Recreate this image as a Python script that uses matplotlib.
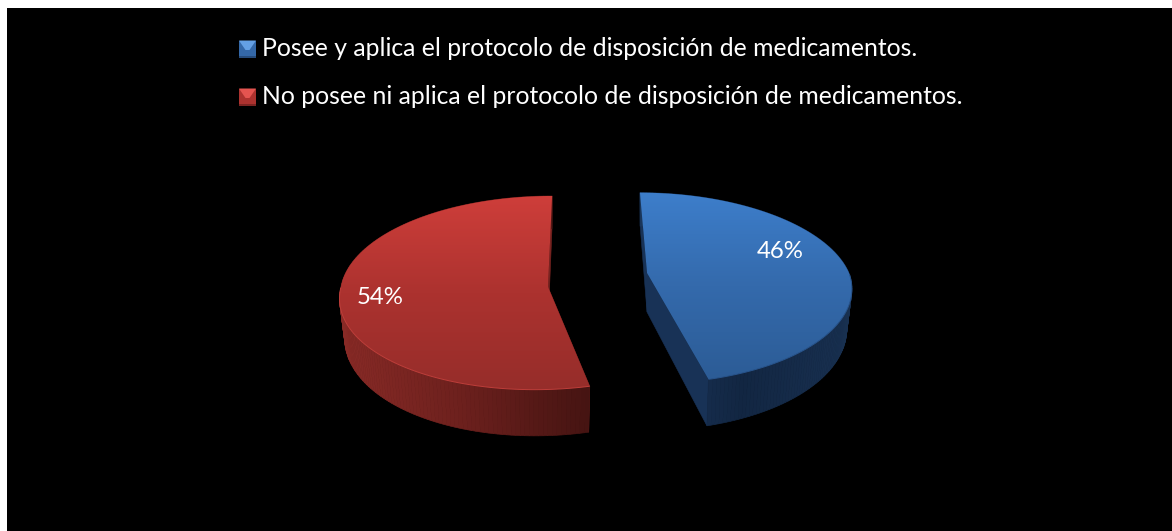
import numpy as np
import matplotlib
matplotlib.use("Agg")
import matplotlib.pyplot as plt
from matplotlib.colors import LinearSegmentedColormap as LSC
from matplotlib.patches import Polygon, Rectangle

labels = ["Posee y aplica el protocolo de disposición de medicamentos.",
          "No posee ni aplica el protocolo de disposición de medicamentos."]
values = [46, 54]

W, H = 1172, 531
fig = plt.figure(figsize=(W / 100, H / 100), dpi=100, facecolor="white")
ax = fig.add_axes([0, 0, 1, 1])
ax.set_xlim(0, W); ax.set_ylim(H, 0); ax.axis("off")
ax.add_patch(Rectangle((7, 8), W - 7, H - 8, fc="black", ec="none", zorder=0))

def c(*rgb):
    return tuple(v / 255 for v in rgb)

styles = [
    dict(apex=(647, 273), a=202, b=93, k=0.158, shear_top=-0.0875, shear_bot=-0.02,
         top=[c(61, 126, 203), c(52, 106, 172), c(44, 92, 150)],
         wall=[c(26, 54, 90), c(18, 38, 66), c(24, 48, 80)],
         cut=c(24, 50, 86), rim=c(40, 84, 140), lx=780, ly=251.5,
         key_hi=c(100, 160, 228), key_mid=c(52, 104, 168), key_lo=c(38, 76, 125)),
    dict(apex=(548, 287), a=207, b=96.5, k=0.06, shear_top=0.045, shear_bot=0.13,
         top=[c(206, 62, 58), c(172, 50, 47), c(150, 45, 42)],
         wall=[c(136, 42, 38), c(108, 32, 29), c(70, 20, 18)],
         cut=c(120, 35, 32), rim=c(190, 62, 58), lx=380, ly=297.5,
         key_hi=c(228, 84, 80), key_mid=c(172, 50, 47), key_lo=c(125, 36, 34)),
]
DEPTH, YS, XS = 39, 1.07, 0.975

def project(st, theta, lower=False):
    X, Y = np.sin(theta), np.cos(theta)
    w = 1 + st["k"] * Y
    dx, dy = st["a"] * X / w, st["b"] * Y / w
    dx = dx + np.where(dy > 0, st["shear_top"], st["shear_bot"]) * dy
    if lower:
        return st["apex"][0] + XS * dx, st["apex"][1] + DEPTH - YS * dy
    return st["apex"][0] + dx, st["apex"][1] - dy

angles = np.cumsum([0] + values) / sum(values) * 2 * np.pi
for i, st in enumerate(styles):
    th = np.linspace(angles[i], angles[i + 1], 160)
    x0, y0 = project(st, th)
    x1, y1 = project(st, th, True)
    ax0, ay0 = st["apex"]
    # cut faces
    for e in [0, -1]:
        ax.add_patch(Polygon([(ax0, ay0), (x0[e], y0[e]), (x1[e], y1[e]),
                              (ax0, ay0 + DEPTH)], fc=st["cut"], ec=st["cut"], lw=0.4, zorder=2))
    # outer wall, shaded in strips
    cmap = LSC.from_list("w", st["wall"])
    lo, hi = x0.min(), x0.max()
    for j in range(len(th) - 1):
        col = cmap((x0[j] - lo) / (hi - lo))
        ax.add_patch(Polygon([(x0[j], y0[j]), (x0[j + 1], y0[j + 1]),
                              (x1[j + 1], y1[j + 1]), (x1[j], y1[j])],
                             fc=col, ec=col, lw=0.5, zorder=3))
    # top face with vertical gradient
    px = np.r_[ax0, x0]; py = np.r_[ay0, y0]
    poly = Polygon(np.c_[px, py], fc="none", ec="none", transform=ax.transData, zorder=4)
    ax.add_patch(poly)
    grad = np.linspace(0, 1, 256)[:, None]
    im = ax.imshow(grad, cmap=LSC.from_list("t", st["top"]), aspect="auto", zorder=4,
                   extent=(px.min(), px.max(), py.max(), py.min()), interpolation="bilinear")
    im.set_clip_path(poly)
    # lit rim
    vis = y0 > ay0
    ax.plot(x0[vis], y0[vis], color=st["rim"], lw=0.7, zorder=5, solid_capstyle="butt")
    ax.text(st["lx"], st["ly"], f"{values[i]}%", color="white", fontsize=17.3, family="Lato",
            ha="center", va="center", zorder=6)

ax.set_xlim(0, W); ax.set_ylim(H, 0)

# legend: bevelled keys plus text
leg_y = [49, 97]
KEY = 8.5
for i, st in enumerate(styles):
    cx, cy = 247.5, leg_y[i]
    ax.add_patch(Rectangle((cx - KEY, cy - KEY), 2 * KEY, 2 * KEY, fc=st["key_mid"], ec="none", zorder=6))
    ax.add_patch(Polygon([(cx - KEY, cy - KEY), (cx + KEY, cy - KEY), (cx + 2, cy + 1), (cx - 2, cy + 1)],
                         fc=st["key_hi"], ec="none", zorder=7))
    ax.add_patch(Rectangle((cx - KEY, cy + KEY - 2), 2 * KEY, 2, fc=st["key_lo"], ec="none", zorder=7))
    ax.text(262, cy, labels[i], color="white", fontsize=17.85, family="Lato",
            ha="left", va="center", zorder=7)

fig.savefig("out.png", dpi=100, facecolor="white")
